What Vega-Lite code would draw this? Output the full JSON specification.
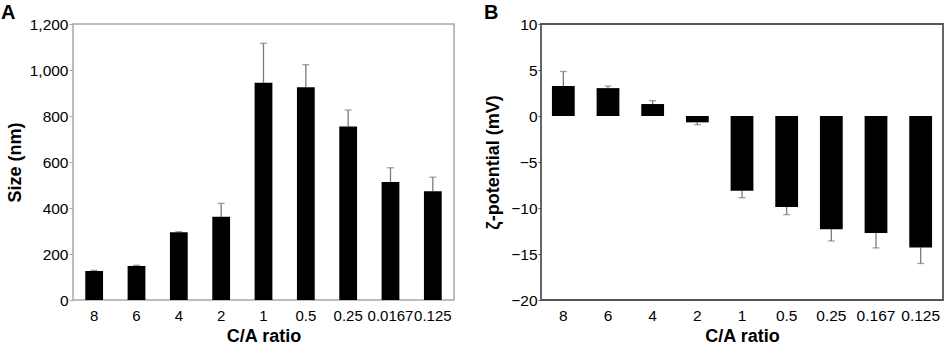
{
  "$schema": "https://vega.github.io/schema/vega-lite/v6.json",
  "padding": {"left": 0, "top": 2, "right": 0, "bottom": 0},
  "background": "white",
  "config": {
    "font": "Liberation Sans",
    "axis": {
      "labelFont": "Liberation Sans",
      "titleFont": "Liberation Sans",
      "labelFontSize": 15.5,
      "labelColor": "#000000",
      "titleFontSize": 18,
      "titleFontWeight": "bold",
      "titleColor": "#000000",
      "grid": false,
      "domain": false
    },
    "title": {"font": "Liberation Sans", "fontSize": 20, "fontWeight": "bold", "color": "#000000"}
  },
  "bounds": "flush",
  "spacing": 87,
  "hconcat": [
    {
      "title": {"text": "A", "anchor": "start", "frame": "group", "dx": -72, "offset": -6},
      "width": 381,
      "height": 276,
      "view": {"stroke": "#a8a8a8", "strokeWidth": 1.5},
      "data": {
        "values": [
          {"ratio": "8", "size": 126, "upper": 129},
          {"ratio": "6", "size": 148, "upper": 151},
          {"ratio": "4", "size": 295, "upper": 297},
          {"ratio": "2", "size": 362, "upper": 420},
          {"ratio": "1", "size": 945, "upper": 1116},
          {"ratio": "0.5", "size": 925, "upper": 1023},
          {"ratio": "0.25", "size": 754, "upper": 826},
          {"ratio": "0.0167", "size": 513, "upper": 575},
          {"ratio": "0.125", "size": 473, "upper": 534}
        ]
      },
      "encoding": {
        "x": {
          "field": "ratio", "type": "nominal", "sort": null, "title": "C/A ratio",
          "scale": {"paddingInner": 0.58, "paddingOuter": 0.29},
          "axis": {"labelAngle": 0, "ticks": false, "labelPadding": 8, "titlePadding": 4, "labelFontSize": 15}
        }
      },
      "layer": [
        {
          "mark": {"type": "rule", "color": "#7a7a7a", "strokeWidth": 1.3},
          "encoding": {
            "y": {"field": "size", "type": "quantitative"},
            "y2": {"field": "upper"}
          }
        },
        {
          "mark": {"type": "tick", "color": "#7a7a7a", "thickness": 1.3, "size": 7},
          "encoding": {"y": {"field": "upper", "type": "quantitative"}}
        },
        {
          "mark": {"type": "bar", "color": "#000000"},
          "encoding": {
            "y": {
              "field": "size", "type": "quantitative", "title": "Size (nm)",
              "scale": {"domain": [0, 1200], "nice": false},
              "axis": {"values": [0, 200, 400, 600, 800, 1000, 1200], "format": ",d", "tickSize": 4, "tickColor": "#a8a8a8", "labelPadding": 1, "titlePadding": 5}
            }
          }
        }
      ]
    },
    {
      "title": {"text": "B", "anchor": "start", "frame": "group", "dx": -57, "offset": -6},
      "width": 402,
      "height": 276,
      "view": {"stroke": "#555555", "strokeWidth": 1.8},
      "data": {
        "values": [
          {"ratio": "8", "zeta": 3.25, "end": 4.84},
          {"ratio": "6", "zeta": 3.03, "end": 3.25},
          {"ratio": "4", "zeta": 1.3, "end": 1.66},
          {"ratio": "2", "zeta": -0.69, "end": -0.94},
          {"ratio": "1", "zeta": -8.12, "end": -8.88},
          {"ratio": "0.5", "zeta": -9.9, "end": -10.72},
          {"ratio": "0.25", "zeta": -12.32, "end": -13.58},
          {"ratio": "0.167", "zeta": -12.71, "end": -14.34},
          {"ratio": "0.125", "zeta": -14.3, "end": -16.03}
        ]
      },
      "encoding": {
        "x": {
          "field": "ratio", "type": "nominal", "sort": null, "title": "C/A ratio",
          "scale": {"paddingInner": 0.49, "paddingOuter": 0.245},
          "axis": {"labelAngle": 0, "ticks": false, "labelPadding": 8, "titlePadding": 4}
        }
      },
      "layer": [
        {
          "mark": {"type": "rule", "color": "#7a7a7a", "strokeWidth": 1.3},
          "encoding": {
            "y": {"field": "zeta", "type": "quantitative"},
            "y2": {"field": "end"}
          }
        },
        {
          "mark": {"type": "tick", "color": "#7a7a7a", "thickness": 1.3, "size": 7},
          "encoding": {"y": {"field": "end", "type": "quantitative"}}
        },
        {
          "mark": {"type": "bar", "color": "#000000"},
          "encoding": {
            "y": {
              "field": "zeta", "type": "quantitative", "title": "ζ-potential (mV)",
              "scale": {"domain": [-20, 10], "nice": false},
              "axis": {"values": [-20, -15, -10, -5, 0, 5, 10], "tickSize": 3, "tickColor": "#555555", "labelPadding": 1, "titlePadding": 8}
            }
          }
        },
        {
          "mark": {"type": "rule", "color": "#000000", "strokeWidth": 1.5},
          "encoding": {"y": {"datum": 0, "type": "quantitative"}}
        }
      ]
    }
  ]
}
